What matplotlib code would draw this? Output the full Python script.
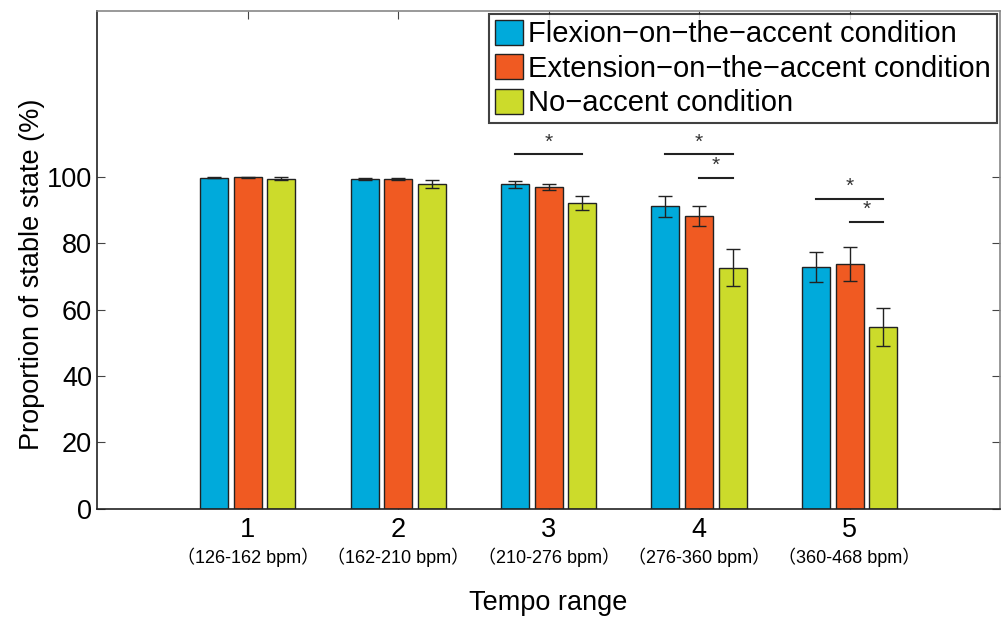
import matplotlib
matplotlib.use("Agg")
import matplotlib.pyplot as plt
import numpy as np

# data
groups = ["1", "2", "3", "4", "5"]
bpm_labels = ["（126-162 bpm）", "（162-210 bpm）", "（210-276 bpm）",
              "（276-360 bpm）", "（360-468 bpm）"]
conditions = ["Flexion−on−the−accent condition",
              "Extension−on−the−accent condition",
              "No−accent condition"]
flexion = [99.8, 99.4, 97.8, 91.2, 72.8]
flexion_err = [0.2, 0.4, 1.0, 3.2, 4.5]
extension = [99.9, 99.4, 97.0, 88.3, 73.8]
extension_err = [0.1, 0.4, 0.9, 3.1, 5.1]
noaccent = [99.5, 97.8, 92.1, 72.7, 54.9]
noaccent_err = [0.5, 1.2, 2.1, 5.6, 5.7]

# significance brackets: (group index, from bar, to bar, height)
sig_pairs = [(2, 0, 2, 106.8), (3, 0, 2, 106.8), (3, 1, 2, 99.8),
             (4, 0, 2, 93.4), (4, 1, 2, 86.4)]

colors = ["#00AADB", "#F05A22", "#CCDB2B"]
font = ["Liberation Sans", "DejaVu Sans"]
plt.rcParams["font.family"] = font

fig = plt.figure(figsize=(10.01, 6.19), dpi=100)
ax = fig.add_axes([0.097, 0.178, 0.902, 0.804])

x = np.arange(1, len(groups) + 1)
offset = 0.223
width = 0.186
series = [(flexion, flexion_err), (extension, extension_err), (noaccent, noaccent_err)]
for i, (vals, errs) in enumerate(series):
    pos = x + (i - 1) * offset
    ax.bar(pos, vals, width, color=colors[i], edgecolor="#222222",
           linewidth=1.0, label=conditions[i], zorder=2)
    ax.errorbar(pos, vals, yerr=errs, fmt="none", ecolor="#222222",
                elinewidth=1.0, capsize=4.7, capthick=1.0, zorder=3)

for g, a, b, h in sig_pairs:
    x0 = x[g] + (a - 1) * offset
    x1 = x[g] + (b - 1) * offset
    ax.plot([x0, x1], [h, h], color="#222222", lw=1.5, zorder=3)
    ax.text((x0 + x1) / 2, h + 0.9, "*", ha="center", va="bottom",
            fontsize=15, color="#333333")

ax.set_xlim(0, 6)
ax.set_ylim(0, 150)
ax.set_yticks([0, 20, 40, 60, 80, 100])
ax.set_xticks(x)
ax.set_xticklabels(groups)
ax.tick_params(axis="both", direction="in", labelsize=19.5, length=6,
               top=True, right=True, color="#444444")
ax.tick_params(axis="x", pad=6)
for side in ["left", "bottom"]:
    ax.spines[side].set_color("#222222")
    ax.spines[side].set_linewidth(1.2)
for side in ["top", "right"]:
    ax.spines[side].set_color("#888888")
    ax.spines[side].set_linewidth(1.2)

for xi, lab in zip(x, bpm_labels):
    ax.text(xi, -14.5, lab, ha="center", va="center", fontsize=13,
            family=["Liberation Sans", "Noto Sans CJK JP"],
            transform=ax.transData, clip_on=False)

ax.set_ylabel("Proportion of stable state (%)", fontsize=19.5)
ax.yaxis.set_label_coords(-0.058, 0.472)
ax.set_xlabel("Tempo range", fontsize=19.5, labelpad=34)

leg = ax.legend(loc="upper right", fontsize=21, frameon=True, fancybox=False,
                edgecolor="#111111", borderaxespad=0.1, handlelength=0.95,
                handleheight=0.95, handletextpad=0.2, labelspacing=0.2,
                borderpad=0.2)
leg.get_frame().set_linewidth(1.5)

fig.savefig("out.png", dpi=100)
